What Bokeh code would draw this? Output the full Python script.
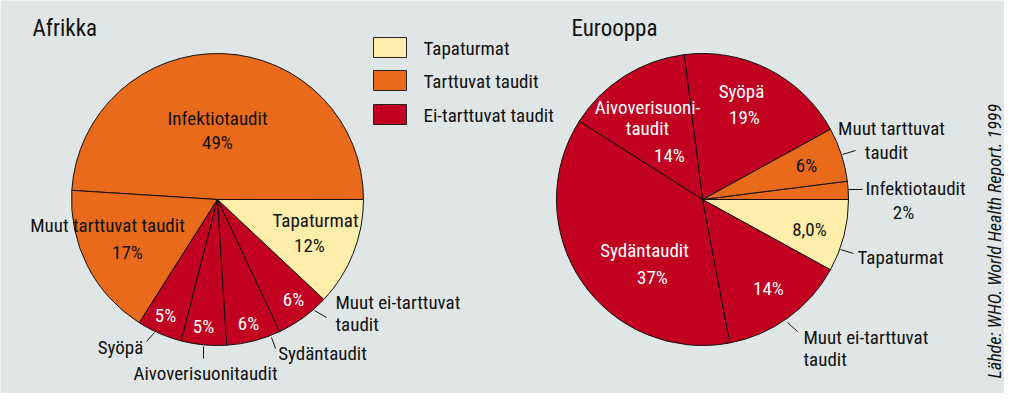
import numpy as np
from bokeh.plotting import figure
from bokeh.models import ColumnDataSource, Range1d, Label
from bokeh.embed import file_html
from bokeh.resources import INLINE

# ---------------- data ----------------
titles = ["Afrikka", "Eurooppa"]

afr_names = ["Infektiotaudit", "Muut tarttuvat taudit", "Syöpä", "Aivoverisuonitaudit",
             "Sydäntaudit", "Muut ei-tarttuvat taudit", "Tapaturmat"]
afr_values = [49, 17, 5, 5, 6, 6, 12]
afr_pct = ["49%", "17%", "5%", "5%", "6%", "6%", "12%"]
afr_groups = ["Tarttuvat taudit", "Tarttuvat taudit", "Ei-tarttuvat taudit", "Ei-tarttuvat taudit",
              "Ei-tarttuvat taudit", "Ei-tarttuvat taudit", "Tapaturmat"]

eur_names = ["Tapaturmat", "Infektiotaudit", "Muut tarttuvat taudit", "Syöpä",
             "Aivoverisuonitaudit", "Sydäntaudit", "Muut ei-tarttuvat taudit"]
eur_values = [8.0, 2, 6, 19, 14, 37, 14]
eur_pct = ["8,0%", "2%", "6%", "19%", "14%", "37%", "14%"]
eur_groups = ["Tapaturmat", "Tarttuvat taudit", "Tarttuvat taudit", "Ei-tarttuvat taudit",
              "Ei-tarttuvat taudit", "Ei-tarttuvat taudit", "Ei-tarttuvat taudit"]

legend_labels = ["Tapaturmat", "Tarttuvat taudit", "Ei-tarttuvat taudit"]
source_text = "Lähde: WHO. World Health Report. 1999"

# ---------------- style ----------------
BG = "#e0e6e6"
COLORS = {"Tapaturmat": "#ffeeaa", "Tarttuvat taudit": "#e86a1a", "Ei-tarttuvat taudit": "#c2001f"}
FONT = "Roboto Condensed, Roboto, sans-serif"
W, H = 1004, 393


def Y(py):
    return H - py


p = figure(width=W, height=H, x_range=Range1d(0, W), y_range=Range1d(0, H),
           output_backend="svg", toolbar_location=None, min_border=0,
           x_axis_location=None, y_axis_location=None)
p.grid.visible = False
p.outline_line_color = None
p.background_fill_color = BG
p.border_fill_color = BG

R = 146


def pie(values, groups, start, cx, cy):
    v = np.array(values, dtype=float)
    frac = v / v.sum()
    ends = start + 2 * np.pi * np.cumsum(frac)
    starts = ends - 2 * np.pi * frac
    src = ColumnDataSource(dict(x=[cx] * len(v), y=[Y(cy)] * len(v), s=starts, e=ends,
                                c=[COLORS[g] for g in groups]))
    p.wedge(x="x", y="y", radius=R, start_angle="s", end_angle="e", fill_color="c",
            line_color="#111111", line_width=1, source=src)


pie(afr_values, afr_groups, 0.0, 217, 199)
eur_start = -2 * np.pi * eur_values[0] / sum(eur_values)
pie(eur_values, eur_groups, eur_start, 702, 199)


def label(x, y, text, color="#111111", align="center", size=19, style="normal", angle=0.0):
    p.add_layout(Label(x=x, y=Y(y), text=text, text_color=color, text_align=align,
                       text_baseline="middle", text_font=FONT, text_font_size=f"{size}px",
                       text_font_style=style, angle=angle))


WHITE = "#ffffff"

# titles
label(32, 28, titles[0], align="left", size=23)
label(571, 28, titles[1], align="left", size=23)

# legend
box_y = [37, 70, 104]
lsrc = ColumnDataSource(dict(left=[373] * 3, right=[406] * 3,
                             top=[Y(b) for b in box_y], bottom=[Y(b + 20) for b in box_y],
                             c=[COLORS[k] for k in legend_labels]))
p.quad(left="left", right="right", top="top", bottom="bottom", fill_color="c",
       line_color="#222222", line_width=1, source=lsrc)
for b, t in zip(box_y, legend_labels):
    label(423, b + 11, t, align="left")


def two_lines(name):
    a, b = name.rsplit(" ", 1)
    return a, b


# ---- Afrikka labels ----
label(217, 118, afr_names[0])
label(217, 142, afr_pct[0])
label(107, 225, afr_names[1])
label(127, 252, afr_pct[1])
label(315, 220, afr_names[6])
label(309, 245, afr_pct[6])
label(293, 299, afr_pct[5], color=WHITE)
l1, l2 = two_lines(afr_names[5])
label(335, 302, l1, align="left")
label(335, 324, l2, align="left")
label(165, 315, afr_pct[2], color=WHITE)
label(120, 347, afr_names[2])
label(203, 326, afr_pct[3], color=WHITE)
label(205, 373, afr_names[3])
label(248, 323, afr_pct[4], color=WHITE)
label(322, 353, afr_names[4])

# ---- Eurooppa labels ----
label(809, 229, eur_pct[0])
label(857, 257, eur_names[0], align="left")
label(865, 188, eur_names[1], align="left")
label(903, 212, eur_pct[1])
label(806, 165, eur_pct[2])
m1, m2 = two_lines(eur_names[2])
label(891, 128, m1)
label(886, 152, m2)
label(741, 91, eur_names[3], color=WHITE)
label(744, 117, eur_pct[3], color=WHITE)
aiv = eur_names[4]
label(647, 107, aiv[:-6] + "-", color=WHITE)
label(647, 128, aiv[-6:], color=WHITE)
label(669, 155, eur_pct[4], color=WHITE)
label(644, 250, eur_names[5], color=WHITE)
label(652, 277, eur_pct[5], color=WHITE)
label(768, 288, eur_pct[6], color=WHITE)
e1, e2 = two_lines(eur_names[6])
label(803, 337, e1, align="left")
label(803, 359, e2, align="left")

# leader lines (layout)
leaders = [
    (314, 310, 326, 317), (154, 332, 146, 341), (203, 346, 203, 358), (271, 337, 275, 348),
    (840, 249, 853, 253), (848, 189, 862, 189), (842, 154, 855, 150), (787, 322, 797, 331),
]
p.segment(x0=[a[0] for a in leaders], y0=[Y(a[1]) for a in leaders],
          x1=[a[2] for a in leaders], y1=[Y(a[3]) for a in leaders],
          line_color="#111111", line_width=1)

# source text
label(994, 378, source_text, align="left", size=18, style="italic", angle=np.pi / 2)

open("out.html", "w").write(file_html(p, INLINE))
